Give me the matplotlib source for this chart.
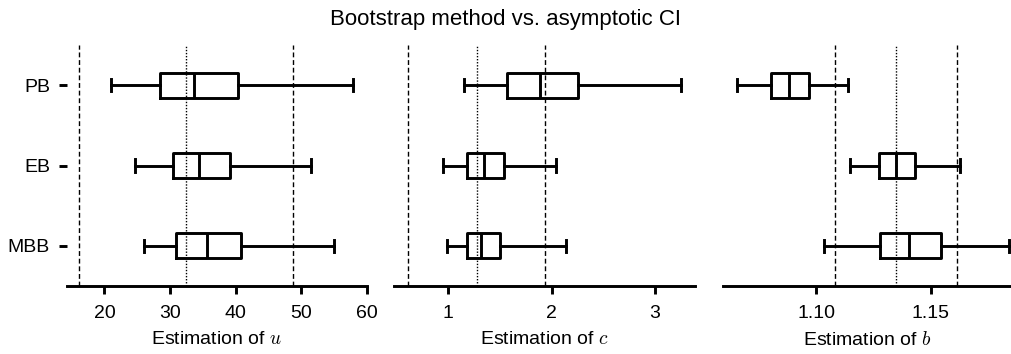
import matplotlib
matplotlib.use("Agg")
import matplotlib.pyplot as plt

plt.rcParams['font.family'] = ['Liberation Sans', 'DejaVu Sans']
plt.rcParams['mathtext.fontset'] = 'cm'

methods = ["PB", "EB", "MBB"]
params = ["u", "c", "b"]

# box statistics per parameter: order PB, EB, MBB
u_whislo = [21.0, 24.6, 26.0]
u_q1 = [28.4, 30.4, 30.9]
u_med = [33.7, 34.4, 35.6]
u_q3 = [40.3, 39.2, 40.8]
u_whishi = [57.8, 51.4, 55.0]

c_whislo = [1.152, 0.952, 0.99]
c_q1 = [1.571, 1.184, 1.178]
c_med = [1.888, 1.348, 1.314]
c_q3 = [2.259, 1.539, 1.503]
c_whishi = [3.25, 2.043, 2.139]

b_whislo = [1.0654, 1.1147, 1.1036]
b_q1 = [1.0804, 1.1273, 1.1278]
b_med = [1.0884, 1.1349, 1.1407]
b_q3 = [1.0971, 1.1432, 1.1546]
b_whishi = [1.1141, 1.1628, 1.1841]

# asymptotic estimate and CI bounds
estimates = [32.4, 1.275, 1.1349]
ci_low = [16.2, 0.612, 1.1082]
ci_high = [48.7, 1.94, 1.1615]

xticks = [[20, 30, 40, 50, 60], [1, 2, 3], [1.10, 1.15]]
xticklabels = [["20", "30", "40", "50", "60"], ["1", "2", "3"], ["1.10", "1.15"]]
xlims = [(14.26, 60.0), (0.474, 3.39), (1.0593, 1.1854)]

stats_all = [
    (u_whislo, u_q1, u_med, u_q3, u_whishi),
    (c_whislo, c_q1, c_med, c_q3, c_whishi),
    (b_whislo, b_q1, b_med, b_q3, b_whishi),
]

fig = plt.figure(figsize=(10.12, 3.54), dpi=100)
W, H = 1012, 354
boxes_px = [(66.7, 367.0), (394.0, 695.0), (722.7, 1012.0)]
bottom = (H - 286) / H
height = (286 - 45) / H

positions = [3, 2, 1]
lw = 2.1
for i, (x0, x1) in enumerate(boxes_px):
    ax = fig.add_axes([x0 / W, bottom, (x1 - x0) / W, height])
    wl, q1, md, q3, wh = stats_all[i]
    stats = []
    for j in range(len(methods)):
        stats.append(dict(whislo=wl[j], q1=q1[j], med=md[j], q3=q3[j],
                          whishi=wh[j], fliers=[], label=methods[j]))
    ax.bxp(stats, positions=positions, orientation='horizontal', widths=0.31,
           showfliers=False,
           boxprops=dict(color='black', linewidth=lw),
           medianprops=dict(color='black', linewidth=lw),
           whiskerprops=dict(color='black', linewidth=lw),
           capprops=dict(color='black', linewidth=lw),
           manage_ticks=False)
    ax.axvline(ci_low[i], color='black', lw=1.0, ls=(0, (3.5, 2.0)), zorder=0)
    ax.axvline(ci_high[i], color='black', lw=1.0, ls=(0, (3.5, 2.0)), zorder=0)
    ax.axvline(estimates[i], color='black', lw=1.0, ls=(0, (1, 1.2)), zorder=0)
    ax.set_xlim(*xlims[i])
    ax.set_ylim(0.5, 3.5)
    ax.set_xticks(xticks[i])
    ax.set_xticklabels(xticklabels[i])
    for s in ['top', 'right', 'left']:
        ax.spines[s].set_visible(False)
    ax.spines['bottom'].set_linewidth(lw)
    ax.tick_params(axis='x', length=6, width=lw, labelsize=14, pad=8)
    if i == 0:
        ax.set_yticks(positions)
        ax.set_yticklabels(methods)
        ax.tick_params(axis='y', length=6, width=lw, labelsize=14, pad=6)
    else:
        ax.set_yticks([])
    ax.set_xlabel("Estimation of $%s$" % params[i], fontsize=14, labelpad=6)
    ax.patch.set_alpha(0)

fig.suptitle("Bootstrap method vs. asymptotic CI", fontsize=16, y=1 - 19 / H, va='center')
fig.savefig("out.png", dpi=100)
